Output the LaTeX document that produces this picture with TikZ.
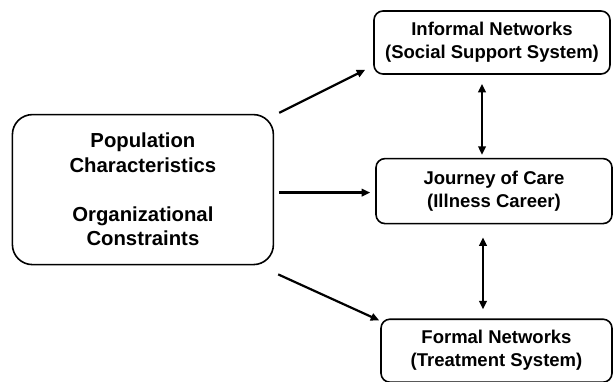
\documentclass[tikz,border=0pt]{standalone}
\usepackage{fontspec}
\setmainfont{Liberation Sans}
\usetikzlibrary{positioning, arrows.meta}

\begin{document}
\begin{tikzpicture}[x=1pt, y=-1pt, >={Triangle[length=8.5pt, width=7.5pt]},
  box/.style={draw, rectangle, rounded corners=9pt, line width=1.6pt, align=center,
    minimum width=236pt, minimum height=63pt, font=\fontsize{18.5}{23}\selectfont\bfseries},
  bigbox/.style={box, rounded corners=20pt, minimum width=261pt, minimum height=150pt,
    font=\fontsize{20.3}{24.5}\selectfont\bfseries},
  link/.style={->, line width=2.2pt},
  twoway/.style={<->, line width=2.2pt}]
\useasboundingbox (0,0) rectangle (613,382);

\node[box] (informal) at (492,42.5) {Informal Networks\\(Social Support System)};
\node[box, minimum height=65pt, below=83pt of informal, xshift=2pt] (journey) {Journey of Care\\(Illness Career)};
\node[box, minimum width=231pt, below=94pt of journey, xshift=2.5pt] (formal) {Formal Networks\\(Treatment System)};
\node[bigbox, left=101pt of journey, yshift=1.5pt] (factors) {Population\\Characteristics\\[24.5pt]Organizational\\Constraints};

\draw[link] ([xshift=5pt, yshift=1pt]factors.north east) -- ([xshift=-8pt, yshift=5pt]informal.south west);
\draw[link] ([xshift=5pt, yshift=-3pt]factors.east) -- ([xshift=-5pt, yshift=-1.5pt]journey.west);
\draw[link] ([xshift=4pt, yshift=-9pt]factors.south east) -- ([xshift=-1pt, yshift=-2pt]formal.north west);

\draw[twoway] ([xshift=-10pt, yshift=-9pt]informal.south) -- ([xshift=-12pt, yshift=3pt]journey.north);
\draw[twoway] ([xshift=-11pt, yshift=-13pt]journey.south) -- ([xshift=-13.5pt, yshift=9pt]formal.north);
\end{tikzpicture}
\end{document}
